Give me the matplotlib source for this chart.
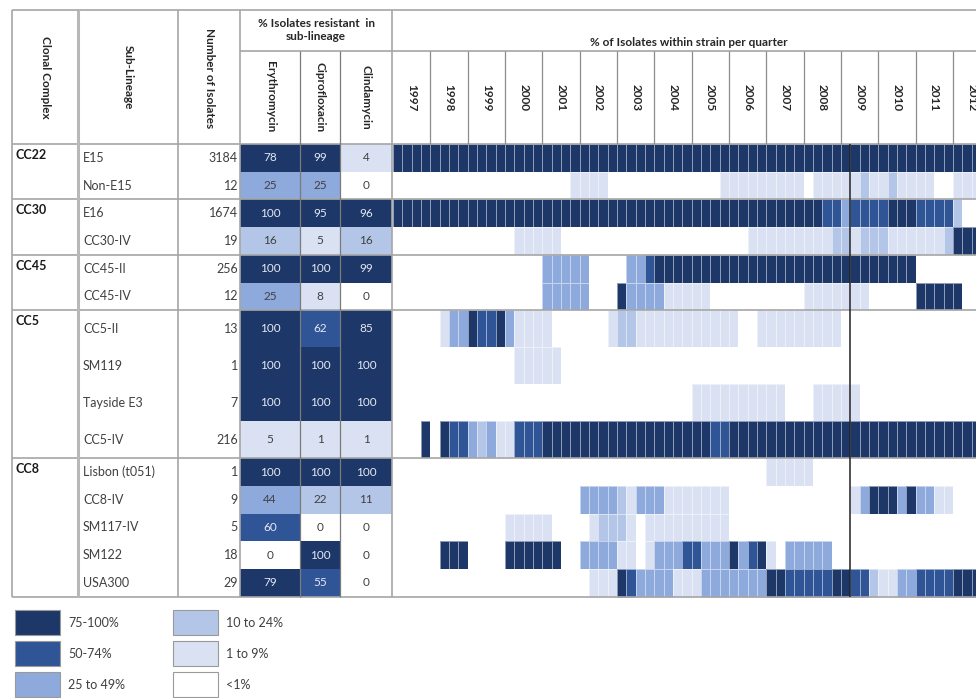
import matplotlib.pyplot as plt
import numpy as np
from matplotlib.colors import ListedColormap
from matplotlib.patches import Rectangle

plt.rcParams['font.family'] = ['Lato', 'DejaVu Sans']

clonal_complexes = ["CC22", "CC30", "CC45", "CC5", "CC8"]
group_sizes = [2, 2, 2, 4, 5]
sub_lineages = ["E15", "Non-E15", "E16", "CC30-IV", "CC45-II", "CC45-IV",
                "CC5-II", "SM119", "Tayside E3", "CC5-IV",
                "Lisbon (t051)", "CC8-IV", "SM117-IV", "SM122", "USA300"]
isolates = [3184, 12, 1674, 19, 256, 12, 13, 1, 7, 216, 1, 9, 5, 18, 29]
erythromycin = [78, 25, 100, 16, 100, 25, 100, 100, 100, 5, 100, 44, 60, 0, 79]
ciprofloxacin = [99, 25, 95, 5, 100, 8, 62, 100, 100, 1, 100, 22, 0, 100, 55]
clindamycin = [4, 0, 96, 16, 99, 0, 85, 100, 100, 1, 100, 11, 0, 0, 0]
antibiotics = ["Erythromycin", "Ciprofloxacin", "Clindamycin"]
years = list(range(1997, 2013))

# band per quarter from 1997 Q1, one group of digits per year
# 0 <1%, 1 1-9%, 2 10-24%, 3 25-49%, 4 50-74%, 5 75-100%
cc22_quarters = [
    "5555 5555 5555 5555 5555 5555 5555 5555 5555 5555 5555 5555 5555 5555 5555 555",
    "0000 0000 0000 0000 0001 1110 0000 0000 0001 1111 1111 0111 1121 1211 1100 111",
]
cc30_quarters = [
    "5555 5555 5555 5555 5555 5555 5555 5555 5555 5555 5555 5544 3444 4555 4444 200",
    "0000 0000 0000 0111 1100 0000 0000 0000 0000 0011 1111 1112 2122 2111 1112 555",
]
cc45_quarters = [
    "0000 0000 0000 0000 3333 3000 0334 5555 5555 5555 5555 5555 5555 5555 0000 000",
    "0000 0000 0000 0000 3333 3000 5333 3111 1100 0000 0000 1111 1110 0000 5555 500",
]
cc5_quarters = [
    "0000 0133 5445 3111 1000 0001 2211 1111 1111 1001 1111 1111 0000 0000 0000 000",
    "0000 0000 0000 0111 1100 0000 0000 0000 0000 0000 0000 0000 0000 0000 0000 000",
    "0000 0000 0000 0000 0000 0000 0000 0000 1111 1111 1100 0111 1100 0000 0000 000",
    "0005 0544 3231 1444 5555 5555 5555 5555 5544 5555 5555 5555 5555 5555 5555 555",
]
cc8_quarters = [
    "0000 0000 0000 0000 0000 0000 0000 0000 0000 0000 1111 1000 0000 0000 0000 000",
    "0000 0000 0000 0000 0000 3333 2133 3111 1111 0000 0000 0000 0135 5535 3311 000",
    "0000 0000 0000 1111 1000 0122 2101 1111 1111 0000 0000 0000 0000 0000 0000 000",
    "0000 0555 0000 5555 5500 3333 1101 3334 4333 5345 1033 3330 0000 0000 0000 000",
    "0000 0000 0000 0000 0000 0111 5433 3311 1333 3333 5544 4445 5442 1133 4444 555",
]
marker_quarter = (2009, 2)

band_labels = ["<1%", "1 to 9%", "10 to 24%", "25 to 49%", "50-74%", "75-100%"]
band_colors = ["#ffffff", "#d9e1f2", "#b4c6e7", "#8ea9db", "#2f5597", "#1d3768"]
cmap = ListedColormap(band_colors)

quarters = np.array([[int(c) for c in row.replace(" ", "")]
                     for row in cc22_quarters + cc30_quarters + cc45_quarters
                     + cc5_quarters + cc8_quarters])
resistance = np.array([erythromycin, ciprofloxacin, clindamycin]).T
res_bands = np.digitize(resistance, [1, 10, 25, 50, 75])

# layout in pixels
left, x_sub, x_num, x_res, right = 12, 78, 178, 240, 976
res_edges = [240, 300, 340, 392]
heat_x0 = 393
year_w = 37.33
quarter_w = year_w / 4
top, y_split, head_bottom = 10, 51, 144

row_heights = []
for cc, n in zip(clonal_complexes, group_sizes):
    row_heights += [37 if cc == "CC5" else 27.7] * n
row_edges = head_bottom + np.concatenate([[0], np.cumsum(row_heights)])
row_mid = (row_edges[:-1] + row_edges[1:]) / 2
group_edges = row_edges[np.concatenate([[0], np.cumsum(group_sizes)])]
bottom = row_edges[-1]

fig = plt.figure(figsize=(9.76, 6.98), dpi=100)
ax = fig.add_axes([0, 0, 1, 1])
ax.set_xlim(0, 976)
ax.set_ylim(698, 0)
ax.axis('off')

# resistance cells
ax.pcolormesh(res_edges, row_edges, res_bands, cmap=cmap, vmin=-0.5, vmax=5.5, zorder=1)

# quarterly strain share
q_edges = heat_x0 + quarter_w * np.arange(quarters.shape[1] + 1)
ax.pcolormesh(q_edges, row_edges, quarters, cmap=cmap, vmin=-0.5, vmax=5.5,
              edgecolors=(1, 1, 1, 0.5), linewidth=0.6, zorder=1)
mq = (marker_quarter[0] - years[0]) * 4 + marker_quarter[1] - 1
ax.vlines(heat_x0 + mq * quarter_w, head_bottom, bottom, color="#222222", lw=1.1, zorder=3)

grid = dict(color="#a6a6a6", lw=1.2, zorder=2)
ax.hlines([top, head_bottom, bottom], left, right, **grid)
ax.hlines(group_edges[1:-1], left, right, **grid)
ax.hlines(y_split, x_res, right, **grid)
ax.vlines([left, x_sub, x_num, x_res, res_edges[-1]], top, bottom, **grid)
ax.vlines(x_sub, top, bottom, color="#b8b8b8", lw=2.2, zorder=2)
ax.vlines(res_edges[1:3], y_split, bottom, color="#7a7a7a", lw=0.9, zorder=2)
year_lines = heat_x0 + year_w * np.arange(1, len(years))
ax.vlines(year_lines, y_split, head_bottom, color="#8c8c8c", lw=0.9, zorder=2)

# headers
hdr = dict(fontsize=8.5, fontweight="bold", color="#262626", ha="center", va="center")
ax.text((left + x_sub) / 2, 77, "Clonal Complex", rotation=270, **hdr)
ax.text((x_sub + x_num) / 2, 77, "Sub-Lineage", rotation=270, **hdr)
ax.text((x_num + x_res) / 2, 78, "Number of Isolates", rotation=270, **hdr)
ax.text((x_res + res_edges[-1]) / 2, 30, "% Isolates resistant  in\nsub-lineage",
        linespacing=1.25, **hdr)
for i, name in enumerate(antibiotics):
    ax.text((res_edges[i] + res_edges[i + 1]) / 2, 97, name, rotation=270, **hdr)
ax.text(689, 42, "% of Isolates within strain per quarter", **hdr)
for i, yr in enumerate(years):
    ax.text(heat_x0 + year_w * (i + 0.5), 98, str(yr), rotation=270, **hdr)

# row labels
for cc, y in zip(clonal_complexes, group_edges[:-1]):
    ax.text(left + 3, y + 11, cc, fontsize=9, fontweight="bold", color="#1a1a1a",
            ha="left", va="center")
for i, name in enumerate(sub_lineages):
    ax.text(x_sub + 5, row_mid[i], name, fontsize=9, color="#404040", ha="left", va="center")
    ax.text(x_res - 2, row_mid[i], str(isolates[i]), fontsize=9, color="#404040",
            ha="right", va="center")
    for j in range(3):
        ax.text((res_edges[j] + res_edges[j + 1]) / 2, row_mid[i], str(resistance[i, j]),
                fontsize=8.5, ha="center", va="center",
                color="#e4e9f3" if res_bands[i, j] >= 4 else "#404040")

# legend
for k, band in enumerate([5, 4, 3, 2, 1, 0]):
    lx = 15 if k < 3 else 173
    ly = 610 + 31 * (k % 3)
    ax.add_patch(Rectangle((lx, ly), 45, 25, facecolor=band_colors[band],
                           edgecolor="#9a9a9a", lw=0.8))
    ax.text(lx + 53, ly + 13, band_labels[band], fontsize=9, color="#404040",
            ha="left", va="center")

fig.savefig("out.png", dpi=100)
